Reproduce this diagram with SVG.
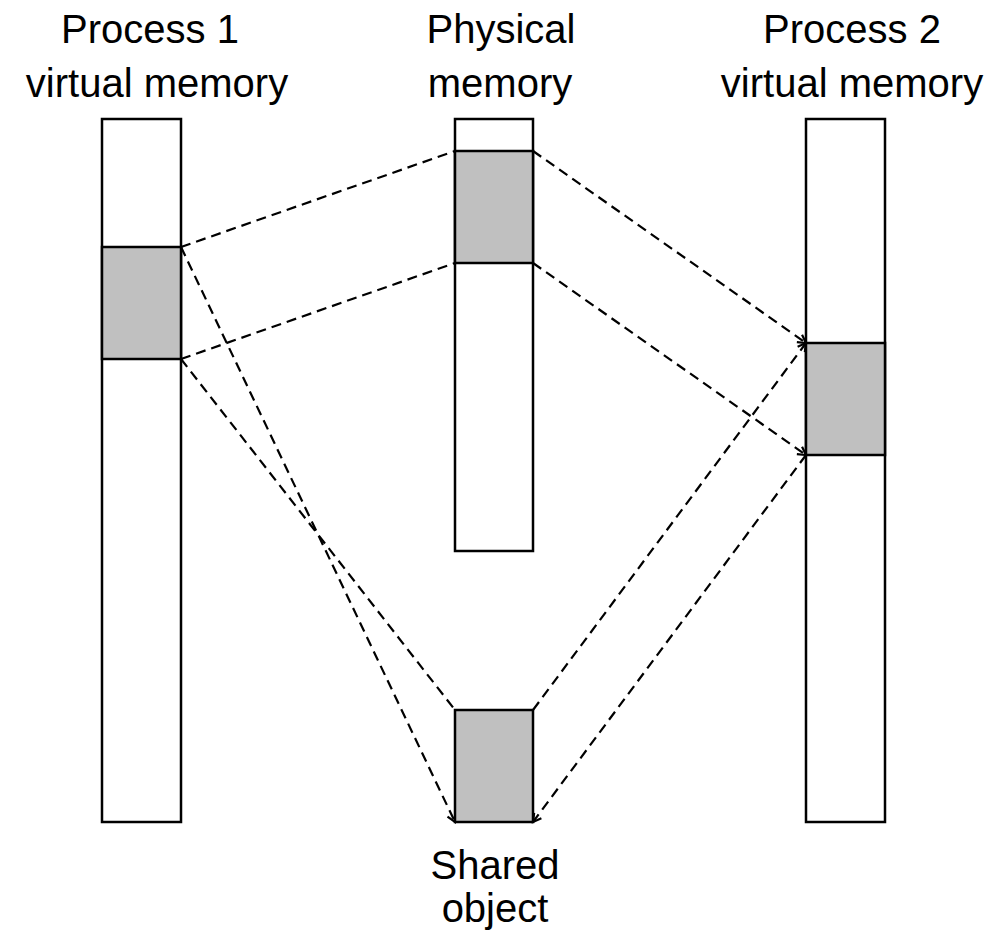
<svg xmlns="http://www.w3.org/2000/svg" width="997" height="941" viewBox="0 0 997 941">
<style>
.box{fill:#fff;stroke:#000;stroke-width:2.5}
.sh{fill:#c0c0c0;stroke:#000;stroke-width:2.5}
.lbl{font-family:"Liberation Sans",Arial,sans-serif;font-size:40px;fill:#000;text-anchor:middle}
.dash{stroke:#000;stroke-width:2.2;stroke-dasharray:10,6;fill:none}
</style>
<defs>
<marker id="arr" markerWidth="12" markerHeight="12" refX="9" refY="6" orient="auto" markerUnits="userSpaceOnUse">
<path d="M1,1.5 L9,6 L1,10.5" fill="none" stroke="#000" stroke-width="2.2"/>
</marker>
</defs>
<rect width="997" height="941" fill="#fff"/>
<g id="connectors">
<line class="dash" x1="181" y1="247" x2="455" y2="151"/>
<line class="dash" x1="181" y1="359" x2="455" y2="263"/>
<line class="dash" x1="181" y1="247" x2="455" y2="822" marker-end="url(#arr)"/>
<line class="dash" x1="181" y1="359" x2="455" y2="710"/>
<line class="dash" x1="533" y1="151" x2="806" y2="343" marker-end="url(#arr)"/>
<line class="dash" x1="533" y1="263" x2="806" y2="455" marker-end="url(#arr)"/>
<line class="dash" x1="533" y1="710" x2="806" y2="343" marker-end="url(#arr)"/>
<line class="dash" x1="806" y1="455" x2="533" y2="822" marker-end="url(#arr)"/>
</g>
<g id="process1">
<rect class="box" x="102" y="119" width="79" height="703"/>
<rect class="sh" x="102" y="247" width="79" height="112"/>
<text class="lbl" x="150" y="43">Process 1</text>
<text class="lbl" x="157" y="97">virtual memory</text>
</g>
<g id="physical">
<rect class="box" x="455" y="119" width="78" height="432"/>
<rect class="sh" x="455" y="151" width="78" height="112"/>
<text class="lbl" x="501" y="43">Physical</text>
<text class="lbl" x="500" y="97">memory</text>
</g>
<g id="process2">
<rect class="box" x="806" y="119" width="79" height="703"/>
<rect class="sh" x="806" y="343" width="79" height="112"/>
<text class="lbl" x="852" y="43">Process 2</text>
<text class="lbl" x="852" y="97">virtual memory</text>
</g>
<g id="shared">
<rect class="sh" x="455" y="710" width="78" height="112"/>
<text class="lbl" x="495" y="879">Shared</text>
<text class="lbl" x="495" y="922">object</text>
</g>
</svg>
